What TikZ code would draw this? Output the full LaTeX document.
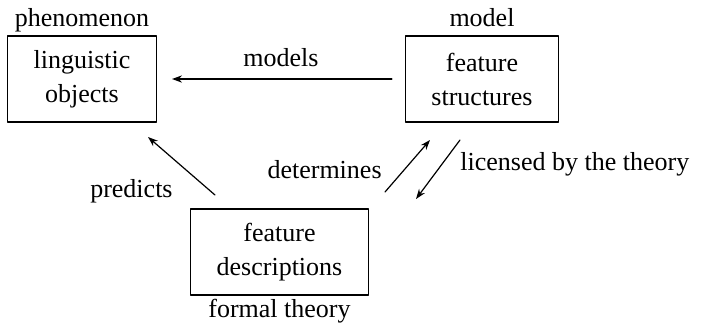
\documentclass[tikz,border=0pt]{standalone}
\usepackage{fontspec}
\setmainfont{Liberation Serif}
\usetikzlibrary{arrows.meta}
\tikzset{
  every picture/.style={line join=round, line cap=round, >={Stealth[length=5pt,width=3.6pt]}},
  txt/.style={font=\fontsize{13}{17}\selectfont, inner sep=0pt},
  box/.style={draw, line width=0.6pt, align=center, inner xsep=13pt, minimum height=43pt, font=\fontsize{13}{17}\selectfont},
  link/.style={->, line width=0.6pt},
}

\begin{document}
\begin{tikzpicture}[x=0.5pt,y=-0.5pt]
\useasboundingbox (0,0) rectangle (702,328);
% the three boxes
\node[box] (objects) at (82,79) {linguistic\\objects};
\node[box] (structures) at (482,79) {feature\\structures};
\node[box] (descriptions) at (279.5,252) {feature\\descriptions};
% what each box stands for
\node[txt,anchor=base] (phen) at (82,26) {phenomenon};
\node[txt,anchor=base] (mod) at (482,26) {model};
\node[txt,anchor=base] (theo) at (279.5,317) {formal theory};
% ends of the slanted arrows
\coordinate (predS) at (215,195);
\coordinate (predE) at (148,137);
\coordinate (detS) at (385,192);
\coordinate (detE) at (430,140);
\coordinate (licS) at (460,140);
\coordinate (licE) at (416,199);
% arrows
\draw[link] ([xshift=-6.5pt]structures.west) -- ([xshift=7.5pt]objects.east);
\draw[link] (predS) -- (predE);
\draw[link] (detS) -- (detE);
\draw[link] (licS) -- (licE);
% arrow labels
\node[txt,anchor=base] (lmodels) at (281,66) {models};
\node[txt,anchor=base east] (lpred) at (173,197) {predicts};
\node[txt,anchor=base east] (ldet) at (382,178) {determines};
\node[txt,anchor=base west] (llic) at (460,170) {licensed by the theory};
\end{tikzpicture}
\end{document}
